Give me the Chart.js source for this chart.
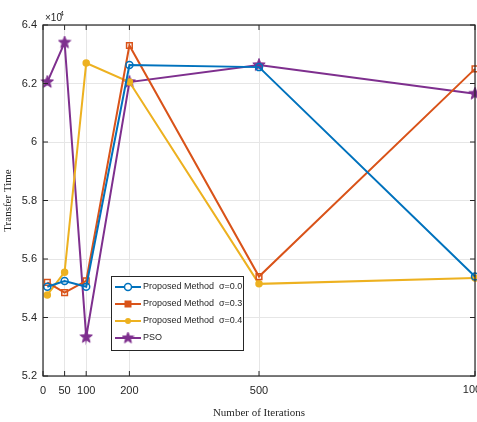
<!DOCTYPE html>
<html><head><meta charset="utf-8">
<script src="https://cdn.jsdelivr.net/npm/chart.js@4/dist/chart.umd.min.js"></script>
<style>html,body{margin:0;padding:0;background:#fff}#wrap{width:477px;height:422px}</style>
</head><body><div id="wrap"><canvas id="c" width="477" height="422"></canvas></div>
<script>
const iterations = [10, 50, 100, 200, 500, 1000];
const sigma00 = [5.505, 5.525, 5.505, 6.263, 6.256, 5.540];
const sigma03 = [5.520, 5.485, 5.525, 6.330, 5.540, 6.250];
const sigma04 = [5.477, 5.555, 6.270, 6.205, 5.515, 5.535];
const pso     = [6.205, 6.340, 5.333, 6.205, 6.263, 6.165];
const xTicks = [0, 50, 100, 200, 500, 1000];
const yTicks = [5.2, 5.4, 5.6, 5.8, 6.0, 6.2, 6.4];
const labels = ['Proposed Method  \u03c3=0.0', 'Proposed Method  \u03c3=0.3', 'Proposed Method  \u03c3=0.4', 'PSO'];
const colors = ['#0072BD', '#D95319', '#EDB120', '#7E2F8E'];
const tickFont = '11px "Liberation Sans Narrow", "Liberation Sans", sans-serif';

function pentagram(color, size) {
  const c = document.createElement('canvas');
  c.width = size; c.height = size;
  const g = c.getContext('2d');
  const cx = size/2, cy = size/2, R = size/2 - 0.5, r = R*0.42;
  g.beginPath();
  for (let i = 0; i < 10; i++) {
    const a = -Math.PI/2 + i*Math.PI/5;
    const rr = i % 2 ? r : R;
    const x = cx + rr*Math.cos(a), y = cy + rr*Math.sin(a);
    i ? g.lineTo(x, y) : g.moveTo(x, y);
  }
  g.closePath();
  g.fillStyle = color; g.fill();
  g.strokeStyle = color; g.lineWidth = 1; g.stroke();
  return c;
}
const star = pentagram(colors[3], 14);
const starSmall = pentagram(colors[3], 13);

function mk(vals, i, style, radius, fill) {
  return {
    label: labels[i],
    data: iterations.map((x, k) => ({x: x, y: vals[k]})),
    borderColor: colors[i],
    backgroundColor: fill ? colors[i] : '#ffffff',
    pointBorderColor: colors[i],
    pointBackgroundColor: fill ? colors[i] : 'rgba(255,255,255,0)',
    pointStyle: style,
    pointRadius: radius,
    pointBorderWidth: 1.5,
    borderWidth: 2,
    tension: 0,
    fill: false,
    clip: false
  };
}

const datasets = [
  mk(sigma00, 0, 'circle', 3.5, false),
  mk(sigma03, 1, 'rect', 4, false),
  mk(sigma04, 2, 'circle', 3, true),
  mk(pso, 3, star, 7, true)
];

const boxPlugin = {
  id: 'box',
  afterDatasetsDraw(chart) {
    const ctx = chart.ctx, a = chart.chartArea;
    const xs = chart.scales.x, ys = chart.scales.y;
    ctx.save();
    ctx.strokeStyle = '#262626';
    ctx.lineWidth = 1.2;
    ctx.strokeRect(a.left, a.top, a.right - a.left, a.bottom - a.top);
    ctx.lineWidth = 1;
    ctx.beginPath();
    xTicks.forEach(v => {
      const p = xs.getPixelForValue(v);
      ctx.moveTo(p, a.bottom); ctx.lineTo(p, a.bottom - 5);
      ctx.moveTo(p, a.top); ctx.lineTo(p, a.top + 5);
    });
    yTicks.forEach(v => {
      const p = ys.getPixelForValue(v);
      ctx.moveTo(a.left, p); ctx.lineTo(a.left + 5, p);
      ctx.moveTo(a.right, p); ctx.lineTo(a.right - 5, p);
    });
    ctx.stroke();
    // last x tick label, allowed to run off the right edge
    const lastTick = xTicks[xTicks.length - 1];
    ctx.fillStyle = '#262626';
    ctx.font = tickFont;
    ctx.textAlign = 'center';
    ctx.textBaseline = 'top';
    ctx.fillText(String(lastTick), xs.getPixelForValue(lastTick), a.bottom + 8);
    // exponent label
    ctx.font = '10px "Liberation Sans Narrow", "Liberation Sans", sans-serif';
    ctx.textBaseline = 'alphabetic';
    ctx.textAlign = 'left';
    ctx.fillText('\u00d710', a.left + 2, a.top - 4);
    ctx.font = '7px "Liberation Sans Narrow", "Liberation Sans", sans-serif';
    ctx.fillText('4', a.left + 17, a.top - 9);
    // legend
    const lx = 111, ly = 276, lw = 132, lh = 74;
    ctx.fillStyle = '#ffffff';
    ctx.fillRect(lx, ly, lw, lh);
    ctx.strokeStyle = '#262626';
    ctx.lineWidth = 1;
    ctx.strokeRect(lx + 0.5, ly + 0.5, lw, lh);
    chart.data.datasets.forEach((ds, i) => {
      const y = ly + 11 + i * 17;
      ctx.strokeStyle = ds.borderColor;
      ctx.lineWidth = 2;
      ctx.beginPath(); ctx.moveTo(lx + 4, y); ctx.lineTo(lx + 30, y); ctx.stroke();
      const mx = lx + 17;
      ctx.lineWidth = 1.5;
      if (i === 0) { ctx.fillStyle = '#fff'; ctx.beginPath(); ctx.arc(mx, y, 3.5, 0, Math.PI*2); ctx.fill(); ctx.stroke(); }
      else if (i === 1) { ctx.fillStyle = ds.borderColor; ctx.fillRect(mx - 3.5, y - 3.5, 7, 7); }
      else if (i === 2) { ctx.fillStyle = ds.borderColor; ctx.beginPath(); ctx.arc(mx, y, 3, 0, Math.PI*2); ctx.fill(); }
      else { ctx.drawImage(starSmall, mx - 6.5, y - 6.5); }
      ctx.fillStyle = '#262626';
      ctx.font = '9px "Liberation Sans Narrow", "Liberation Sans", sans-serif';
      ctx.textBaseline = 'middle';
      ctx.fillText(ds.label, lx + 32, y);
    });
    ctx.restore();
  }
};

new Chart(document.getElementById('c'), {
  type: 'line',
  data: { datasets: datasets },
  plugins: [boxPlugin],
  options: {
    responsive: false,
    animation: false,
    layout: { autoPadding: false, padding: { top: 25, right: 2, left: 0, bottom: 0 } },
    plugins: { legend: { display: false }, tooltip: { enabled: false } },
    scales: {
      x: {
        type: 'linear', min: 0, max: 1000,
        afterBuildTicks: ax => { ax.ticks = xTicks.map(v => ({ value: v })); },
        afterFit: ax => { ax.height = 46; },
        grid: { color: '#e6e6e6', drawTicks: true, tickLength: 8, tickColor: 'rgba(0,0,0,0)', lineWidth: 1 },
        border: { display: false },
        ticks: { color: '#262626', padding: 0, maxRotation: 0, autoSkip: false,
          callback: v => (v === xTicks[xTicks.length - 1] ? '' : String(v)),
          font: { family: '"Liberation Sans Narrow", "Liberation Sans", sans-serif', size: 11 } },
        title: { display: true, text: 'Number of Iterations', color: '#262626', padding: { top: 0, bottom: 2 },
          font: { family: '"Liberation Serif", serif', size: 11 } }
      },
      y: {
        type: 'linear', min: 5.2, max: 6.4,
        afterBuildTicks: ax => { ax.ticks = yTicks.map(v => ({ value: v })); },
        afterFit: ax => { ax.width = 43; },
        grid: { color: '#e6e6e6', drawTicks: false, lineWidth: 1 },
        border: { display: false },
        ticks: { color: '#262626', padding: 6,
          callback: v => String(Math.round(v * 10) / 10),
          font: { family: '"Liberation Sans Narrow", "Liberation Sans", sans-serif', size: 11 } },
        title: { display: true, text: 'Transfer Time', color: '#262626', padding: { top: 2, bottom: 0 },
          font: { family: '"Liberation Serif", serif', size: 11 } }
      }
    }
  }
});
</script>
</body></html>
